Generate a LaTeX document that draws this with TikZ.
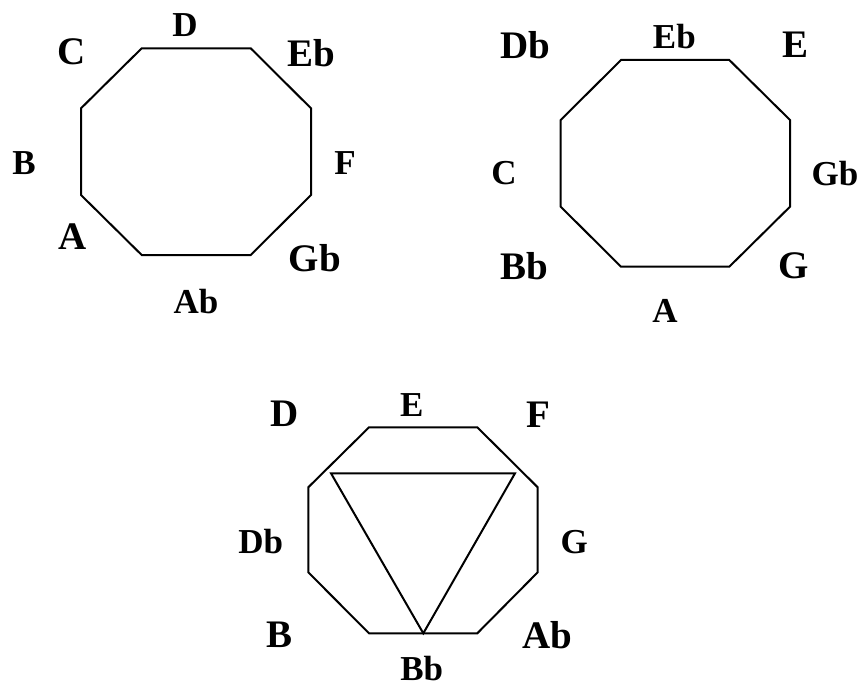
\documentclass[tikz,border=0pt]{standalone}
\usepackage{fontspec}
\setmainfont{Liberation Serif}
\usepackage{tikz}
\usetikzlibrary{positioning, calc}

\begin{document}
\begin{tikzpicture}[
		x=0.5pt, y=-0.5pt,
		edge/.style={line width=1pt, line join=miter},
		big/.style={font=\fontsize{19.5}{19.5}\selectfont\bfseries, inner sep=0pt},
		small/.style={font=\fontsize{17.5}{17.5}\selectfont\bfseries, inner sep=0pt}
		]
		
		\useasboundingbox (0,0) rectangle (860,690);
		
		% First octagon
		\coordinate (p1) at (141.7,48.3);
		\coordinate (p2) at (250.7,48.3);
		\coordinate (p3) at (311,108.3);
		\coordinate (p4) at (311,195);
		\coordinate (p5) at (250.7,255);
		\coordinate (p6) at (141.7,255);
		\coordinate (p7) at (81,195);
		\coordinate (p8) at (81,108.3);
		\draw[edge] (p1) -- (p2) -- (p3) -- (p4) -- (p5) -- (p6) -- (p7) -- (p8) -- cycle;
		
		\node[small] (D1) at (185,25) {D};
		\node[big] (C1) at (71.7,51.7) {C};
		\node[big] (Eb1) at (311.7,53.3) {Eb};
		\node[small] (B1) at (24,163) {B};
		\node[small] (F1) at (345,163) {F};
		\node[big] (A1) at (73,237) {A};
		\node[big] (Gb1) at (315,258) {Gb};
		\node[small] (Ab1) at (196,302) {Ab};
		
		% Second octagon
		\coordinate (q1) at (621,60);
		\coordinate (q2) at (729.3,60);
		\coordinate (q3) at (790,120);
		\coordinate (q4) at (790,206.7);
		\coordinate (q5) at (729.3,266.7);
		\coordinate (q6) at (621,266.7);
		\coordinate (q7) at (560.7,206.7);
		\coordinate (q8) at (560.7,120);
		\draw[edge] (q1) -- (q2) -- (q3) -- (q4) -- (q5) -- (q6) -- (q7) -- (q8) -- cycle;
		
		\node[big] (Db2) at (525,45) {Db};
		\node[small] (Eb2) at (674.3,36.7) {Eb};
		\node[big] (E2) at (795.7,45) {E};
		\node[small] (C2) at (504,173.3) {C};
		\node[small] (Gb2) at (835,174) {Gb};
		\node[big] (Bb2) at (524,265.7) {Bb};
		\node[big] (G2) at (793.3,265.7) {G};
		\node[small] (A2) at (665,310.7) {A};
		
		% Third octagon with triangle
		\coordinate (r1) at (369,427.3);
		\coordinate (r2) at (477.3,427.3);
		\coordinate (r3) at (537.7,487.3);
		\coordinate (r4) at (537.7,572.3);
		\coordinate (r5) at (477.3,633.3);
		\coordinate (r6) at (369,633.3);
		\coordinate (r7) at (308.3,572.3);
		\coordinate (r8) at (308.3,487.3);
		\draw[edge] (r1) -- (r2) -- (r3) -- (r4) -- (r5) -- (r6) -- (r7) -- (r8) -- cycle;
		
		\coordinate (t1) at (331,473.3);
		\coordinate (t2) at (515,473.3);
		\coordinate (t3) at (423.3,633.3);
		\draw[edge] (t1) -- (t2) -- (t3) -- cycle;
		
		\node[big] (D3) at (285,413.3) {D};
		\node[small] (E3) at (411.7,405) {E};
		\node[big] (F3) at (538.3,415) {F};
		\node[small] (Db3) at (260.7,541.7) {Db};
		\node[small] (G3) at (574.3,541.7) {G};
		\node[big] (B3) at (279.3,635) {B};
		\node[big] (Ab3) at (547.3,635) {Ab};
		\node[small] (Bb3) at (421.7,668.3) {Bb};
		
	\end{tikzpicture}
\end{document}
